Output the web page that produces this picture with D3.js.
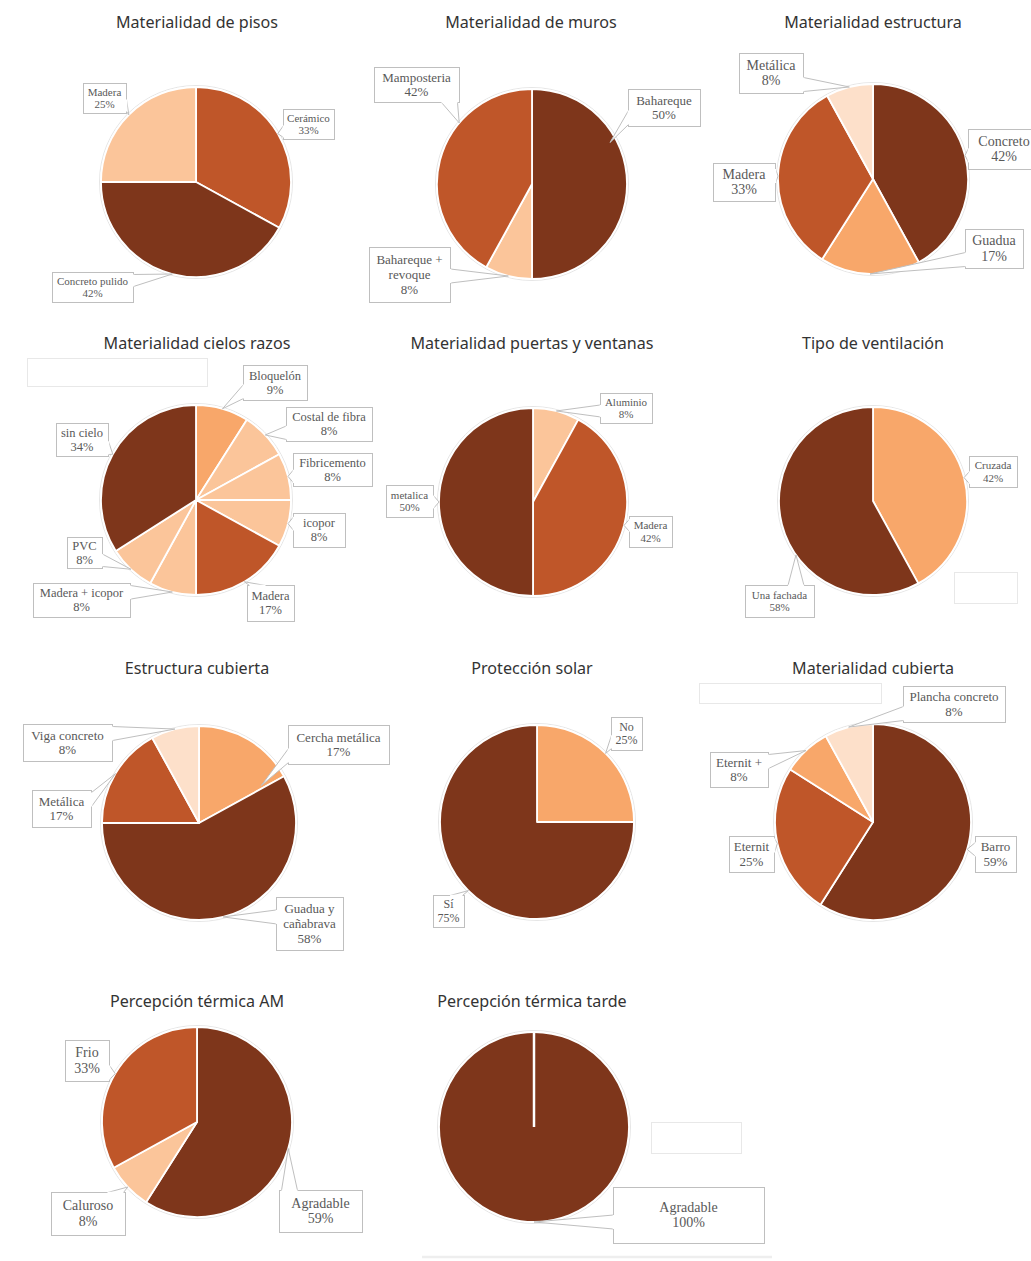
<!DOCTYPE html>
<html>
<head>
<meta charset="utf-8">
<script src="https://cdn.jsdelivr.net/npm/d3@7"></script>
<style>
  html, body { margin: 0; padding: 0; background: #ffffff; }
  svg { display: block; }
</style>
</head>
<body>
<svg id="chart" width="1031" height="1261"></svg>
<script>
// ---------------- DATA ----------------
const titles = [
  "Materialidad de pisos", "Materialidad de muros", "Materialidad estructura",
  "Materialidad cielos razos", "Materialidad puertas y ventanas", "Tipo de ventilación",
  "Estructura cubierta", "Protección solar", "Materialidad cubierta",
  "Percepción térmica AM", "Percepción térmica tarde"
];

const pisosCategories = ["Cerámico", "Concreto pulido", "Madera"];
const pisosValues = [33, 42, 25];

const murosCategories = ["Bahareque", "Bahareque + revoque", "Mamposteria"];
const murosValues = [50, 8, 42];

const estructuraCategories = ["Concreto", "Guadua", "Madera", "Metálica"];
const estructuraValues = [42, 17, 33, 8];

const cielosCategories = ["Bloquelón", "Costal de fibra", "Fibricemento", "icopor", "Madera", "Madera + icopor", "PVC", "sin cielo"];
const cielosValues = [9, 8, 8, 8, 17, 8, 8, 34];

const puertasCategories = ["Aluminio", "Madera", "metalica"];
const puertasValues = [8, 42, 50];

const ventilacionCategories = ["Cruzada", "Una fachada"];
const ventilacionValues = [42, 58];

const estCubiertaCategories = ["Cercha metálica", "Guadua y cañabrava", "Metálica", "Viga concreto"];
const estCubiertaValues = [17, 58, 17, 8];

const proteccionCategories = ["No", "Sí"];
const proteccionValues = [25, 75];

const cubiertaCategories = ["Barro", "Eternit", "Eternit +", "Plancha concreto"];
const cubiertaValues = [59, 25, 8, 8];

const amCategories = ["Agradable", "Caluroso", "Frio"];
const amValues = [59, 8, 33];

const tardeCategories = ["Agradable"];
const tardeValues = [100];

// ---------------- STYLE / LAYOUT ----------------
const palette = { dark: "#7E361B", medium: "#BF5629", orange: "#F8A76A", peach: "#FBC59A", pale: "#FDE0CA" };

const charts = [
  { cats: pisosCategories, vals: pisosValues, colors: ["medium", "dark", "peach"],
    title: [197, 22], c: [196, 182], r: 95, fs: 11,
    boxes: [[283,109,51,30], [52,272,81,30], [83,83,43,30]] },
  { cats: murosCategories, vals: murosValues, colors: ["dark", "peach", "medium"],
    title: [531, 22], c: [532, 184], r: 95, fs: 13,
    boxes: [[628,89,72,37], [369,247,81,55], [374,67,85,35]],
    tips: { 0: [62, 0.93], 2: [310, 1] } },
  { cats: estructuraCategories, vals: estructuraValues, colors: ["dark", "orange", "medium", "pale"],
    title: [873, 22], c: [873, 179], r: 95, fs: 14,
    boxes: [[968,129,72,40], [965,229,58,39], [713,163,62,38], [739,53,64,40]] },
  { cats: cielosCategories, vals: cielosValues, colors: ["orange", "peach", "peach", "peach", "medium", "peach", "peach", "dark"],
    title: [197, 343], c: [196, 500], r: 95, fs: 12.5,
    boxes: [[243,365,64,35], [286,407,86,34], [293,453,79,33], [293,513,52,34], [247,585,47,36], [33,583,97,34], [67,537,35,31], [56,423,52,33]],
    empty: [[27,358,180,28]] },
  { cats: puertasCategories, vals: puertasValues, colors: ["peach", "medium", "dark"],
    title: [532, 343], c: [533, 502], r: 94, fs: 11,
    boxes: [[600,393,52,30], [629,516,43,31], [386,485,47,32]] },
  { cats: ventilacionCategories, vals: ventilacionValues, colors: ["orange", "dark"],
    title: [873, 343], c: [873, 501], r: 94, fs: 11,
    boxes: [[969,456,48,31], [745,585,69,32]],
    tips: { 1: [235, 1] },
    empty: [[954,572,63,31]] },
  { cats: estCubiertaCategories, vals: estCubiertaValues, colors: ["orange", "dark", "medium", "pale"],
    title: [197, 668], c: [199, 823], r: 97, fs: 13,
    boxes: [[288,725,101,39], [276,897,67,53], [32,790,59,37], [23,724,89,37]],
    tips: { 0: [59, 0.75] } },
  { cats: proteccionCategories, vals: proteccionValues, colors: ["orange", "dark"],
    title: [532, 668], c: [537, 822], r: 97, fs: 12,
    boxes: [[611,717,31,33], [433,895,31,32]] },
  { cats: cubiertaCategories, vals: cubiertaValues, colors: ["dark", "medium", "orange", "pale"],
    title: [873, 668], c: [873, 822], r: 98, fs: 13,
    boxes: [[975,836,41,36], [729,836,45,36], [710,752,58,35], [903,686,102,36]],
    empty: [[699,683,182,20]] },
  { cats: amCategories, vals: amValues, colors: ["dark", "peach", "medium"],
    title: [197, 1001], c: [197, 1122], r: 95, fs: 14,
    boxes: [[279,1190,83,42], [51,1192,74,43], [65,1040,44,41]] },
  { cats: tardeCategories, vals: tardeValues, colors: ["dark"],
    title: [532, 1001], c: [534, 1127], r: 95, fs: 14,
    boxes: [[613,1187,151,56]],
    empty: [[651,1122,90,31]] }
];

const svg = d3.select("#chart");
const labelFont = "'Liberation Serif', 'Times New Roman', serif";
const titleFont = "'Noto Sans', 'Open Sans', sans-serif";
const boxStroke = "#BFBFBF";
const textColor = "#595959";

const measureCtx = document.createElement("canvas").getContext("2d");
function wrap(text, fs, maxW) {
  measureCtx.font = fs + "px 'Liberation Serif'";
  const words = text.split(" ");
  const lines = [];
  let cur = "";
  words.forEach(w => {
    const t = cur ? cur + " " + w : w;
    if (measureCtx.measureText(t).width > maxW && cur) { lines.push(cur); cur = w; }
    else cur = t;
  });
  if (cur) lines.push(cur);
  return lines;
}

const pieGen = d3.pie().sort(null).value(d => d.v).startAngle(0).endAngle(2 * Math.PI);

charts.forEach((ch, ci) => {
  const data = ch.cats.map((k, i) => ({ k, v: ch.vals[i], color: palette[ch.colors[i]] }));
  const arcs = pieGen(data);
  const arc = d3.arc().innerRadius(0).outerRadius(ch.r);
  const g = svg.append("g").attr("transform", `translate(${ch.c[0]},${ch.c[1]})`);

  // faint rim
  g.append("circle").attr("r", ch.r + 1.5).attr("fill", "none").attr("stroke", "#E6E6E6").attr("stroke-width", 1);

  g.selectAll("path.slice").data(arcs).join("path")
    .attr("class", "slice")
    .attr("d", arc)
    .attr("fill", d => d.data.color)
    .attr("stroke", "#ffffff")
    .attr("stroke-width", 1.8)
    .attr("stroke-linejoin", "round");

  if (arcs.length === 1) {
    const a = arcs[0].startAngle;
    g.append("line").attr("x1", 0).attr("y1", 0)
      .attr("x2", ch.r * Math.sin(a)).attr("y2", -ch.r * Math.cos(a))
      .attr("stroke", "#ffffff").attr("stroke-width", 2.5);
  }

  // title
  svg.append("text")
    .attr("x", ch.title[0]).attr("y", ch.title[1])
    .attr("text-anchor", "middle").attr("dominant-baseline", "central")
    .attr("font-family", titleFont).attr("font-size", 16.1).attr("fill", "#333333")
    .text(titles[ci]);

  // empty placeholder boxes
  (ch.empty || []).forEach(b => {
    svg.append("rect").attr("x", b[0] + 0.5).attr("y", b[1] + 0.5).attr("width", b[2]).attr("height", b[3])
      .attr("fill", "#ffffff").attr("stroke", "#E8E8E8").attr("stroke-width", 1);
  });

  // callouts
  arcs.forEach((d, i) => {
    const [bx, by, bw, bh] = ch.boxes[i];
    let angDeg = (d.startAngle + d.endAngle) / 2 * 180 / Math.PI;
    let rf = 1;
    if (ch.tips && ch.tips[i]) { angDeg = ch.tips[i][0]; rf = ch.tips[i][1]; }
    const a = angDeg * Math.PI / 180;
    const tx = ch.c[0] + ch.r * rf * Math.sin(a);
    const ty = ch.c[1] - ch.r * rf * Math.cos(a);

    const x0 = bx + 0.5, y0 = by + 0.5;
    const dl = x0 - tx, dr = tx - (x0 + bw), dt = y0 - ty, db = ty - (y0 + bh);
    const side = [["left", dl], ["right", dr], ["top", dt], ["bottom", db]].sort((p, q) => q[1] - p[1])[0][0];
    const clamp = (v, lo, hi) => Math.max(lo, Math.min(hi, v));
    let p1, p2;
    if (side === "left" || side === "right") {
      const hw = Math.min(7, bh * 0.2);
      const xs = side === "left" ? x0 : x0 + bw;
      const cy = clamp(ty, y0 + hw + 2, y0 + bh - hw - 2);
      p1 = [xs, cy - hw]; p2 = [xs, cy + hw];
    } else {
      const hw = Math.min(8, bw * 0.2);
      const ys = side === "top" ? y0 : y0 + bh;
      const cx = clamp(tx, x0 + hw + 2, x0 + bw - hw - 2);
      p1 = [cx - hw, ys]; p2 = [cx + hw, ys];
    }
    const cg = svg.append("g");
    cg.append("path")
      .attr("d", `M${p1[0]},${p1[1]}L${tx},${ty}L${p2[0]},${p2[1]}Z`)
      .attr("fill", "#ffffff").attr("stroke", boxStroke).attr("stroke-width", 1);
    cg.append("rect").attr("x", x0).attr("y", y0).attr("width", bw).attr("height", bh)
      .attr("fill", "#ffffff").attr("stroke", boxStroke).attr("stroke-width", 1);
    cg.append("line").attr("x1", p1[0]).attr("y1", p1[1]).attr("x2", p2[0]).attr("y2", p2[1])
      .attr("stroke", "#ffffff").attr("stroke-width", 1.6);

    const lines = wrap(d.data.k, ch.fs, bw - 4).concat([d.data.v + "%"]);
    const lh = ch.fs * 1.12;
    const startY = by + bh / 2 - (lines.length - 1) * lh / 2;
    const t = cg.append("text")
      .attr("font-family", labelFont).attr("font-size", ch.fs).attr("fill", textColor)
      .attr("text-anchor", "middle");
    lines.forEach((ln, li) => {
      t.append("tspan").attr("x", bx + bw / 2).attr("y", startY + li * lh)
        .attr("dominant-baseline", "central").text(ln);
    });
  });
});

// bottom rule under last chart
svg.append("line").attr("x1", 422).attr("x2", 772).attr("y1", 1257).attr("y2", 1257)
  .attr("stroke", "#EEEEEE").attr("stroke-width", 2.5);
</script>
</body>
</html>
